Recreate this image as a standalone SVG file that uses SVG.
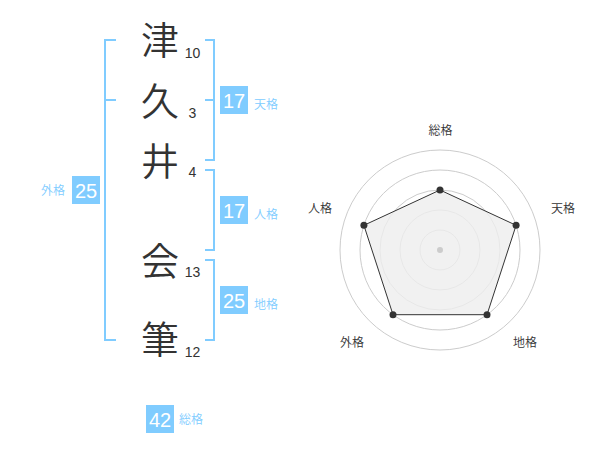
<svg xmlns="http://www.w3.org/2000/svg" width="600" height="470" viewBox="0 0 600 470">
<style>
.ch{font-family:"Noto Sans CJK JP","Noto Sans CJK SC",sans-serif;font-size:38px;font-weight:350;fill:#333;text-anchor:middle}
.st{font-family:"Liberation Sans","Noto Sans CJK JP",sans-serif;font-size:14px;fill:#333;text-anchor:middle}
.br{fill:none;stroke:#80ccff;stroke-width:2}
.box{fill:#80ccff}
.bt{font-family:"Liberation Sans",sans-serif;font-size:20px;fill:#fff;text-anchor:middle}
.lb{font-family:"Noto Sans CJK JP","Noto Sans CJK SC",sans-serif;font-size:12px;font-weight:350;fill:#80ccff}
.rl{font-family:"Noto Sans CJK JP","Noto Sans CJK SC",sans-serif;font-size:12px;font-weight:350;fill:#333;text-anchor:middle}
.ring{fill:none;stroke:#ccc;stroke-width:1}
.dot{fill:#333}
</style>
<rect width="600" height="470" fill="#fff"/>
<g id="connectors">
<path class="br" d="M116,40 H105 V340 H116 M105,100 H116"/>
<path class="br" d="M205,40 H214 V160 H205 M214,100 H205"/>
<path class="br" d="M205,170 H214 V250 H205"/>
<path class="br" d="M205,260 H214 V340 H205"/>
</g>
<g id="char1"><text class="ch" x="160" y="54">津</text><text class="st" x="192.5" y="57.5">10</text></g>
<g id="char2"><text class="ch" x="160" y="115">久</text><text class="st" x="192.5" y="117.5">3</text></g>
<g id="char3"><text class="ch" x="160" y="175">井</text><text class="st" x="192.5" y="177">4</text></g>
<g id="char4"><text class="ch" x="160" y="275">会</text><text class="st" x="192.5" y="277">13</text></g>
<g id="char5"><text class="ch" x="160" y="353">筆</text><text class="st" x="192.5" y="357">12</text></g>
<g id="tenkaku"><rect class="box" x="220" y="86" width="28" height="28"/><text class="bt" x="234" y="108">17</text><text class="lb" x="254" y="109">天格</text></g>
<g id="jinkaku"><rect class="box" x="220" y="196" width="28" height="28"/><text class="bt" x="234" y="218">17</text><text class="lb" x="254" y="219">人格</text></g>
<g id="chikaku"><rect class="box" x="220" y="286" width="28" height="28"/><text class="bt" x="234" y="308">25</text><text class="lb" x="254" y="309">地格</text></g>
<g id="gaikaku"><rect class="box" x="72" y="176" width="28" height="28"/><text class="bt" x="86" y="198">25</text><text class="lb" x="41" y="194.5">外格</text></g>
<g id="soukaku"><rect class="box" x="146" y="405" width="28" height="28"/><text class="bt" x="160" y="427">42</text><text class="lb" x="179" y="423.5">総格</text></g>
<g id="radar">
<circle class="ring" cx="440" cy="250" r="20"/>
<circle class="ring" cx="440" cy="250" r="40"/>
<circle class="ring" cx="440" cy="250" r="60"/>
<circle class="ring" cx="440" cy="250" r="80"/>
<circle class="ring" cx="440" cy="250" r="100"/>
<polygon points="440,190 516.1,225.3 487,314.7 393,314.7 363.9,225.3" fill="#eeeeee" fill-opacity="0.8" stroke="#333" stroke-width="1"/>
<circle cx="440" cy="250" r="3" fill="#ccc"/>
<circle class="dot" cx="440" cy="190" r="3.5"/>
<circle class="dot" cx="516.1" cy="225.3" r="3.5"/>
<circle class="dot" cx="487" cy="314.7" r="3.5"/>
<circle class="dot" cx="393" cy="314.7" r="3.5"/>
<circle class="dot" cx="363.9" cy="225.3" r="3.5"/>
<text class="rl" x="440.5" y="134.5">総格</text>
<text class="rl" x="563" y="212.5">天格</text>
<text class="rl" x="525" y="346.5">地格</text>
<text class="rl" x="352" y="346.5">外格</text>
<text class="rl" x="320" y="212.5">人格</text>
</g>
</svg>
